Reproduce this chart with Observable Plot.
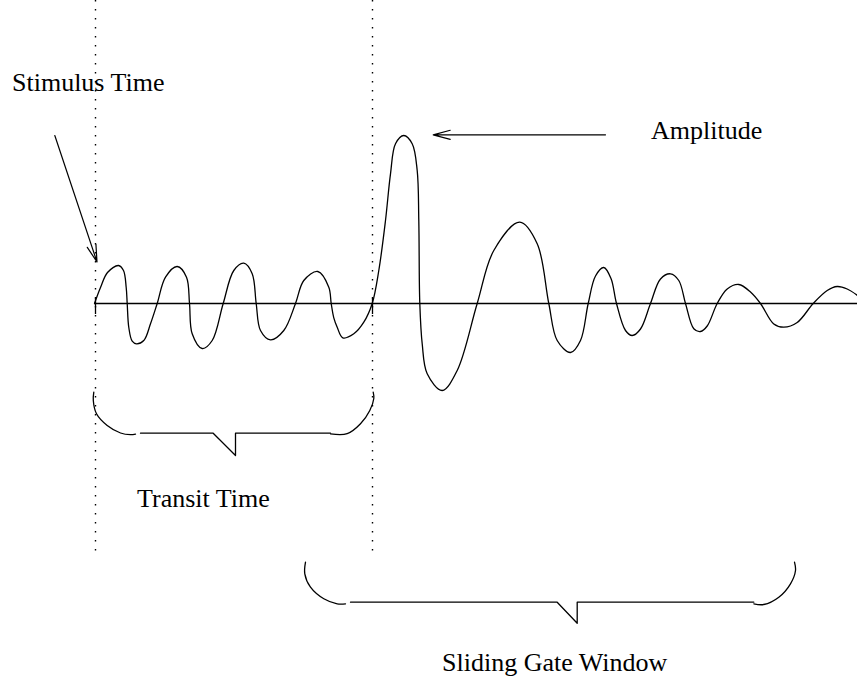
<!DOCTYPE html>
<html><head><meta charset="utf-8">
<script src="https://cdn.jsdelivr.net/npm/d3@7"></script>
<script src="https://cdn.jsdelivr.net/npm/@observablehq/plot@0.6"></script>
<style>html,body{margin:0;padding:0;background:#fff} #chart svg{display:block}</style>
</head><body><div id="chart"></div>
<script>
// Diagram coordinates (x to the right, y downward)
const waveTime = [94,100,107,118,123,125.7,126.7,128.3,131.7,136,143.3,150,156.7,165,176.7,186,189,191.7,201.7,211.7,222.7,233.3,243.3,251.7,255.7,260,270,283.3,295,303.3,317.3,328.3,330.7,333.3,336.7,342.3,353.3,363.3,371.7,378.3,385,390,395,403.3,411.7,416.7,418.3,419.3,421.7,426.7,441.7,456.7,476.7,493.3,519.3,536.7,548.3,556.7,570,580,587.7,595,603.3,610.5,616,625,631.7,640,650,660,670,678.3,685,693.3,700,706.7,716.7,726.7,738.3,750,760,773.3,783.3,796.7,812.7,826.7,836.7,846.7,857];
const waveLevel = [303,287,272,265,270,287,303,327,340.7,343.3,340,323.3,303,276.7,266,276.7,303,333.3,348,340,303,270,262.7,273.3,303,330,339.3,330,303,280,271,286.7,303,317.3,326.7,337.3,333.3,321.7,303,270,220,173.3,143.3,135,143.3,170,220,303,343.3,373.3,390,370,303,250,221.7,243.3,303,340,352,340,303,275.5,267,278,303,330,335,328.5,303,278.5,273.3,280,303,328.3,331,325.5,303,288.5,284,291.5,303,323.5,326.7,322,303,290,286,288.5,295];

const baselineLevel = 303;
const baselineStart = 94;
const baselineEnd = 857;

const guideTimes = [95, 372];          // stimulus time, end of transit
const guideTop = 0, guideBottom = 555;

const labelText = ["Stimulus Time", "Amplitude", "Transit Time", "Sliding Gate Window"];
const labelX = [11.5, 650.5, 136.5, 441.5];
const labelY = [90, 138.5, 506, 670];

const arrowFromX = [54.3, 605];
const arrowFromY = [135, 134.3];
const arrowToX = [96.5, 432.7];
const arrowToY = [261.5, 134.3];

// bracket pieces
const transitLeftArc = [[93.3,391.7],[92.8,400],[96,413.3],[106.7,425],[120,432.5],[130,434.2],[135,433.6]];
const transitBody = [[140,432.7],[212.7,432.7],[235,455],[235,432.7],[330,432.7]];
const transitRightArc = [[330,433.4],[346.7,433.2],[360,423.3],[369.3,410],[373.3,398],[372.7,391.7]];
const gateLeftArc = [[305,561.7],[304.3,573.3],[310,586.7],[323.3,598.3],[336.7,603.3],[345,603.3]];
const gateBody = [[350,601.7],[556.7,601.7],[576.7,622.7],[576.7,601.7],[753.3,601.7]];
const gateRightArc = [[753.3,603.3],[763.3,604],[778.3,596.7],[790,583.3],[795,570],[794,561.7]];

// build tables
const wave = waveTime.map((t, i) => ({t, v: waveLevel[i]}));
const labels = labelText.map((s, i) => ({s, x: labelX[i], y: labelY[i]}));
const arrows = arrowFromX.map((x, i) => ({x1: x, y1: arrowFromY[i], x2: arrowToX[i], y2: arrowToY[i]}));
const toPts = (arr, id) => arr.map(([x, y]) => ({x, y, id}));
const arcs = [
  ...toPts(transitLeftArc, "tl"), ...toPts(transitRightArc, "tr"),
  ...toPts(gateLeftArc, "gl"), ...toPts(gateRightArc, "gr")
];
const bodies = [...toPts(transitBody, "tb"), ...toPts(gateBody, "gb")];

const serif = "'Liberation Serif', 'Times New Roman', Times, serif";
const W = 857, H = 683;
const chart = Plot.plot({
  width: W, height: H,
  margin: 0,
  x: {domain: [0, W], range: [0, W], axis: null},
  y: {domain: [0, H], range: [0, H], axis: null},
  style: {background: "#fff", fontFamily: serif},
  marks: [
    Plot.ruleX(guideTimes, {x: d => d, y1: guideTop, y2: guideBottom, stroke: "#000", strokeWidth: 1.4, strokeDasharray: "1.4 7.6"}),
    Plot.ruleX(guideTimes, {x: d => d, y1: baselineLevel - 5, y2: baselineLevel + 11, stroke: "#000", strokeWidth: 1.3}),
    Plot.ruleY([baselineLevel], {y: d => d, x1: baselineStart, x2: baselineEnd, stroke: "#000", strokeWidth: 1.3}),
    Plot.line(wave, {x: "t", y: "v", curve: "catmull-rom", stroke: "#000", strokeWidth: 1.3}),
    Plot.line(arcs, {x: "x", y: "y", z: "id", curve: "catmull-rom", stroke: "#000", strokeWidth: 1.3}),
    Plot.line(bodies, {x: "x", y: "y", z: "id", stroke: "#000", strokeWidth: 1.3}),
    Plot.arrow(arrows, {x1: "x1", y1: "y1", x2: "x2", y2: "y2", stroke: "#000", strokeWidth: 1.2, headAngle: 30, headLength: 22}),
    Plot.text(labels, {x: "x", y: "y", text: "s", textAnchor: "start", lineAnchor: "bottom", fontSize: 26, fill: "#000", fontFamily: serif})
  ]
});
document.getElementById("chart").appendChild(chart);
</script>
</body></html>
